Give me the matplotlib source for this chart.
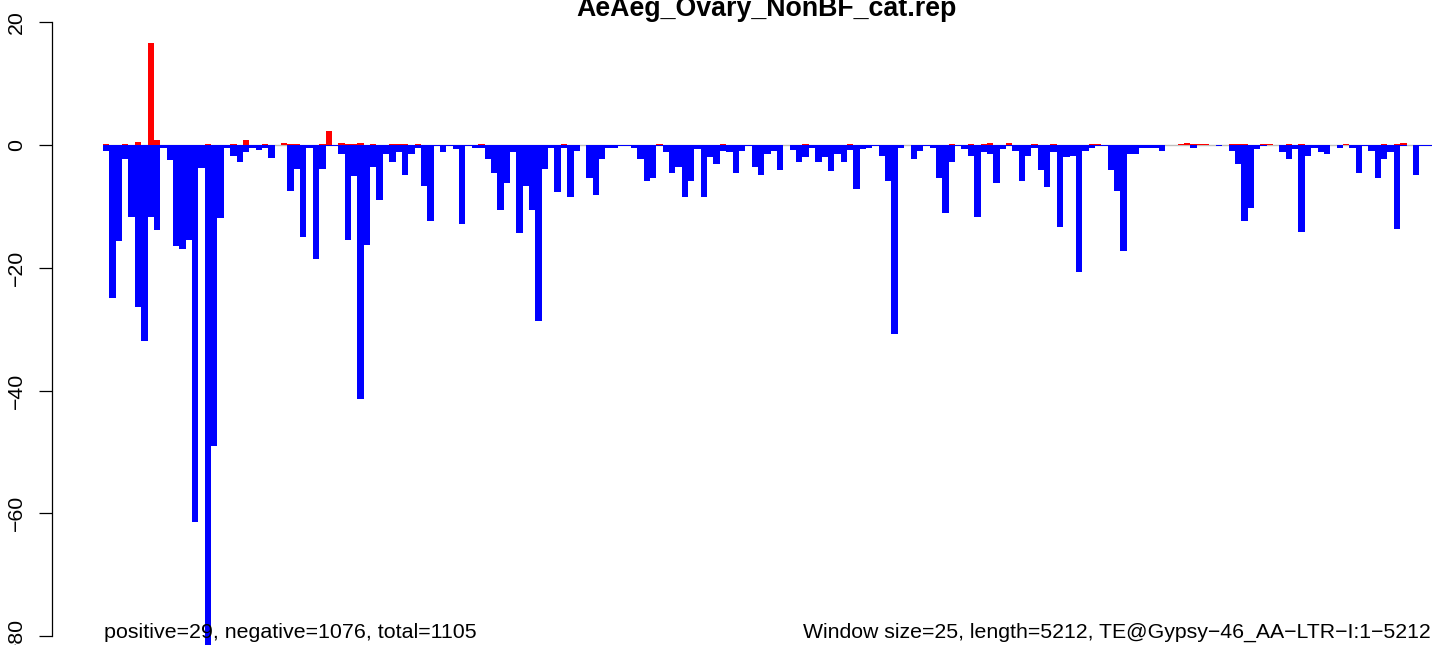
import numpy as np
import matplotlib
matplotlib.use("Agg")
import matplotlib.pyplot as plt

plt.rcParams['font.family'] = ['Liberation Sans', 'DejaVu Sans']

title = "AeAeg_Ovary_NonBF_cat.rep"
left_note = "positive=29, negative=1076, total=1105"
right_note = "Window size=25, length=5212, TE@Gypsy\u221246_AA\u2212LTR\u2212I:1\u22125212"
yticks = [20, 0, -20, -40, -60, -80]

# negative-strand values per 25-nt window (blue, drawn downward)
neg = [
    -1.0, -24.9, -15.6, -2.25, -11.7, -26.3, -31.9, -11.7, -13.8, -0.5,
    -2.5, -16.4, -16.9, -15.5, -61.4, -3.8, -82.0, -49.0, -11.8, -0.5,
    -1.7, -2.8, -1.1, -0.5, -0.8, -0.5, -2.1, 0, 0, -7.5,
    -3.9, -15.0, -0.5, -18.5, -3.9, -0.15, -0.2, -1.4, -15.5, -5.0,
    -41.3, -16.2, -3.5, -9.0, -1.5, -2.7, -1.2, -4.9, -1.5, -0.5,
    -6.7, -12.4, -0.2, -1.2, -0.15, -0.7, -12.8, -0.2, -0.5, -0.5,
    -2.2, -4.6, -10.6, -6.1, -1.2, -14.4, -6.6, -10.5, -28.7, -3.9,
    -0.4, -7.7, -0.5, -8.5, -0.9, 0, -5.3, -8.2, -2.2, -0.5,
    -0.4, -0.2, -0.15, -0.5, -2.3, -5.8, -5.3, -0.2, -1.1, -4.6,
    -3.5, -8.4, -5.8, -0.6, -8.4, -1.9, -3.0, -0.9, -1.1, -4.5,
    -0.9, -0.2, -3.6, -4.8, -1.5, -1.0, -4.0, 0, -0.8, -2.7,
    -2.0, -0.5, -2.8, -1.9, -4.3, -1.5, -2.8, -0.8, -7.1, -0.7,
    -0.4, -0.2, -1.8, -5.8, -30.7, -0.5, 0, -2.3, -1.0, -0.2,
    -0.4, -5.3, -11.0, -2.7, -0.2, -0.7, -1.7, -11.7, -1.1, -1.4,
    -6.1, -0.7, -0.2, -1.0, -5.9, -1.7, -0.5, -4.1, -6.9, -1.2,
    -13.3, -2.0, -1.8, -20.7, -0.9, -0.5, -0.15, -0.2, -4.1, -7.5,
    -17.3, -1.5, -1.4, -0.5, -0.5, -0.5, -1.0, 0, 0, 0,
    0, -0.5, 0, 0, 0, -0.15, 0, -0.9, -3.0, -12.4,
    -10.3, -0.7, -0.2, 0, 0, -1.2, -2.3, -0.7, -14.2, -1.7,
    -0.5, -1.2, -1.4, 0, -0.5, 0, -0.4, -4.5, -0.15, -1.0,
    -5.4, -2.2, -1.2, -13.6, -0.15, 0, -4.8, -0.2, -0.15,
]

# positive-strand values (red, drawn upward): window index -> value
pos_idx = [0, 3, 5, 7, 8, 16, 20, 22, 25, 28, 29, 30, 34, 35, 37, 38, 39, 40,
           42, 45, 46, 47, 49, 59, 72, 87, 97, 110, 117, 133, 136, 138, 139,
           142, 146, 149, 155, 156, 169, 170, 171, 172, 173, 177, 178, 179,
           182, 183, 186, 188, 195, 201, 203, 204]
pos_val = [0.15, 0.15, 0.5, 16.7, 0.8, 0.15, 0.15, 0.8, 0.15, 0.4, 0.2, 0.15,
           0.15, 2.3, 0.4, 0.15, 0.15, 0.4, 0.15, 0.15, 0.15, 0.15, 0.15,
           0.15, 0.15, 0.15, 0.15, 0.2, 0.2, 0.15, 0.15, 0.2, 0.4, 0.4, 0.15,
           0.15, 0.2, 0.15, 0.2, 0.4, 0.2, 0.15, 0.15, 0.15, 0.15, 0.2, 0.15,
           0.15, 0.15, 0.2, 0.15, 0.15, 0.2, 0.4]

n = len(neg)
pos = np.zeros(n)
pos[pos_idx] = pos_val
x = np.arange(n)

W, H = 1433, 645
fig = plt.figure(figsize=(W / 100, H / 100), dpi=100)
ax = fig.add_axes([103 / W, 0, 1329 / W, 1])

ax.hlines(0, -0.5, n - 0.5, color='#BEBEBE', lw=1.0, zorder=1)
ax.bar(x, pos, width=1.0, color='#FF0000', linewidth=0, antialiased=False, zorder=2)
ax.bar(x, neg, width=1.0, color='#0000FF', linewidth=0, antialiased=False, zorder=2)

ax.set_xlim(-0.5, n - 0.5)
ppu = 122.75 / 20.0
zero_px = 145.1
ax.set_ylim(-(H - zero_px) / ppu, zero_px / ppu)

for s in ['top', 'right', 'bottom']:
    ax.spines[s].set_visible(False)
ax.spines['left'].set_position(('outward', (103 - 52) * 0.72))
ax.spines['left'].set_bounds(-80, 20)
ax.spines['left'].set_linewidth(0.9)
ax.set_xticks([])
ax.set_yticks(yticks)
ax.set_yticklabels([str(v).replace('-', '\u2212') for v in yticks])
ax.tick_params(axis='y', length=13 * 0.72, width=0.9, pad=9.5, labelsize=15.3)
for lbl in ax.get_yticklabels():
    lbl.set_rotation(90)
    lbl.set_va('center')

fig.text(767 / W, 1 - 15.5 / H, title, ha='center', va='baseline',
         fontsize=19.3, fontweight='bold')
fig.text(104 / W, 1 - 638 / H, left_note, ha='left', va='baseline', fontsize=15.4)
fig.text(1431 / W, 1 - 638 / H, right_note, ha='right', va='baseline', fontsize=15.3)

fig.savefig('out.png', dpi=100)
